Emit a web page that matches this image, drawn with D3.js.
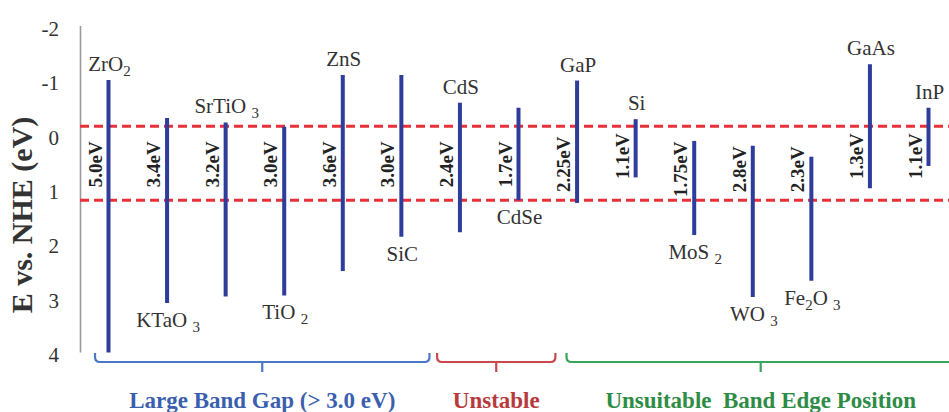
<!DOCTYPE html>
<html><head><meta charset="utf-8">
<script src="https://cdn.jsdelivr.net/npm/d3@7"></script>
<style>body{margin:0;background:#fff} svg{display:block}</style>
</head><body><svg id="c" width="949" height="412"></svg>
<script>
// ---------- data ----------
const materials = ["ZrO{2}","KTaO {3}","SrTiO {3}","TiO {2}","ZnS","SiC","CdS","CdSe","GaP","Si","MoS {2}","WO {3}","Fe{2}O {3}","GaAs","InP"];
const cbEdge = [-1.00,-0.30,-0.22,-0.14,-1.09,-1.09,-0.58,-0.49,-0.99,-0.28,0.12,0.21,0.41,-1.29,-0.49];
const vbEdge = [4.01,3.10,2.98,2.96,2.51,1.88,1.80,1.21,1.26,0.79,1.85,2.99,2.69,0.99,0.58];
const gapLabels = ["5.0eV","3.4eV","3.2eV","3.0eV","3.6eV","3.0eV","2.4eV","1.7eV","2.25eV","1.1eV","1.75eV","2.8eV","2.3eV","1.3eV","1.1eV"];
const namePlace = ["above","below","above","below","above","below","above","below","above","above","below","below","below","above","above"];
const yTicks = [-2,-1,0,1,2,3,4];
const redoxLevels = [-0.15, 1.21];
const groupNames = ["Large Band Gap (> 3.0 eV)","Unstable","Unsuitable  Band Edge Position"];
const groupFirst = [0,6,8];
const groupLast = [5,7,14];

// ---------- layout / style ----------
const W = 949, H = 412;
const serif = "'Liberation Serif','Times New Roman',serif";
const barColor = "#2e3c9b";
const groupColors = ["#4a78c8","#c8484c","#3aa55a"];
const groupTextColors = ["#3b5fae","#b83a3c","#2e8c45"];
const bracketPad = [[-0.23,0.48],[-0.39,0.63],[-0.18,0.45]]; // in category steps

const svg = d3.select("#c");
const x = d3.scalePoint().domain(materials).range([108.5, 928.5]);
const y = d3.scaleLinear().domain([-2, 4]).range([25.6, 352]);
const step = x.step();
const xi = i => x(materials[0]) + i * step;

// y axis
const yAxis = d3.axisLeft(y).tickValues(yTicks).tickSize(0).tickSizeOuter(0).tickPadding(21).tickFormat(d => String(d));
const ga = svg.append("g").attr("transform","translate(80,0)").call(yAxis);
ga.select(".domain").attr("stroke","#9a9a9a").attr("stroke-width",1.6);
ga.selectAll("text").attr("font-family",serif).attr("font-size",21).attr("fill","#333").attr("dy","0.46em");

svg.append("text")
  .attr("transform","translate(32,215) rotate(-90)")
  .attr("text-anchor","middle").attr("font-family",serif).attr("font-weight","bold")
  .attr("font-size",30).attr("fill","#333").text("E vs. NHE (eV)");

// redox levels
svg.selectAll("line.redox").data(redoxLevels).join("line").attr("class","redox")
  .attr("x1",80).attr("x2",W).attr("y1",d=>y(d)).attr("y2",d=>y(d))
  .attr("stroke","#e8303a").attr("stroke-width",3).attr("stroke-dasharray","9,5");

// bars
svg.selectAll("line.bar").data(materials).join("line").attr("class","bar")
  .attr("x1",d=>x(d)).attr("x2",d=>x(d))
  .attr("y1",(d,i)=>y(cbEdge[i])).attr("y2",(d,i)=>y(vbEdge[i]))
  .attr("stroke",barColor).attr("stroke-width",4);

// gap labels
const gapCenter = i => vbEdge[i] < 1.0 ? 0.40 : (cbEdge[i] > 0 ? 0.64 : 0.55);
svg.selectAll("text.gap").data(gapLabels).join("text").attr("class","gap")
  .attr("transform",(d,i)=>`translate(${x(materials[i]) - 7},${y(gapCenter(i))}) rotate(-90)`)
  .attr("text-anchor","middle").attr("font-family",serif).attr("font-weight","bold")
  .attr("font-size",19).attr("fill","#222").text(d=>d);

// material names
function parts(s){ const out=[]; const re=/([^{]+)|\{([^}]+)\}/g; let m; while((m=re.exec(s))){ if(m[1]) out.push({t:m[1],sub:false}); else out.push({t:m[2],sub:true}); } return out; }
const names = svg.selectAll("text.name").data(materials).join("text").attr("class","name")
  .attr("x",d=>x(d)+1)
  .attr("y",(d,i)=> namePlace[i]==="above" ? y(cbEdge[i]) - 9 : y(vbEdge[i]) + 24)
  .attr("text-anchor","middle").attr("font-family",serif).attr("font-size",21).attr("fill","#333")
  .style("white-space","pre");
names.each(function(d){
  const t = d3.select(this); let shifted = false;
  parts(d).forEach(p=>{
    const ts = t.append("tspan").text(p.t);
    if (p.sub) { ts.attr("font-size",15).attr("dy", 5); shifted = true; }
    else if (shifted) { ts.attr("dy",-5); shifted = false; }
  });
});

// group brackets
const yLine = 362, yEnd = 353, yTick = 372, r = 5;
groupNames.forEach((g,k)=>{
  const x0 = xi(groupFirst[k] + bracketPad[k][0]);
  const x1 = xi(groupLast[k] + bracketPad[k][1]);
  const xm = (x0 + x1) / 2;
  const p = d3.path();
  p.moveTo(x0, yEnd); p.lineTo(x0, yLine - r); p.quadraticCurveTo(x0, yLine, x0 + r, yLine);
  p.lineTo(x1 - r, yLine); p.quadraticCurveTo(x1, yLine, x1, yLine - r); p.lineTo(x1, yEnd);
  p.moveTo(xm, yLine); p.lineTo(xm, yTick);
  svg.append("path").attr("d",p.toString()).attr("fill","none")
    .attr("stroke",groupColors[k]).attr("stroke-width",2.2);
  svg.append("text").attr("x",xm).attr("y",408).attr("text-anchor","middle")
    .attr("font-family",serif).attr("font-weight","bold").attr("font-size",23)
    .attr("fill",groupTextColors[k]).style("white-space","pre").text(g);
});
</script></body></html>
